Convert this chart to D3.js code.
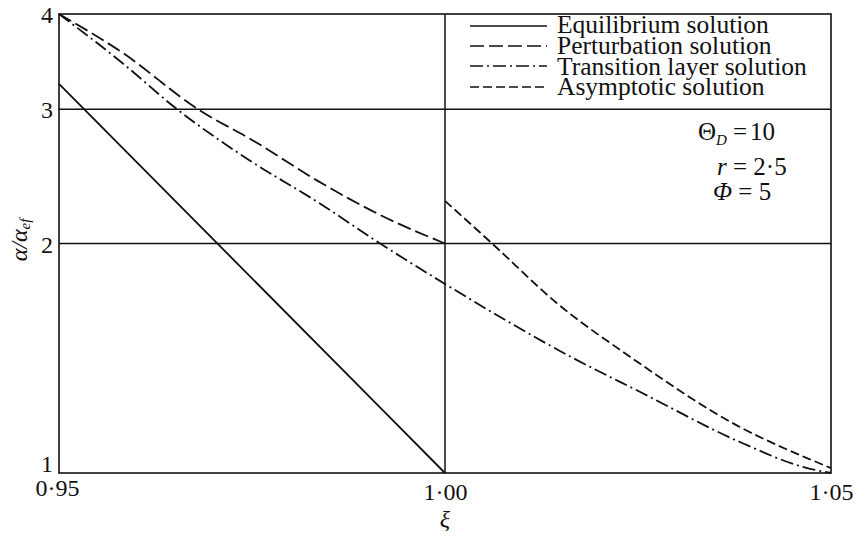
<!DOCTYPE html>
<html>
<head>
<meta charset="utf-8">
<script src="https://cdn.jsdelivr.net/npm/d3@7"></script>
<style>
  html, body { margin: 0; padding: 0; background: #fff; }
  svg { display: block; }
  svg text { font-family: "Liberation Serif", "Tinos", "Times New Roman", Times, "Nimbus Roman", "FreeSerif", "DejaVu Serif", serif; fill: #111; }
</style>
</head>
<body>
<svg id="chart" width="855" height="541"></svg>
<script>
// ---- data ----
const xTicks = [0.95, 1.00, 1.05];
const xTickLabels = ["0·95", "1·00", "1·05"];
const yTicks = [1, 2, 3, 4];
const yTickLabels = ["1", "2", "3", "4"];

const equilibriumXi  = [0.95, 0.975, 1.00];
const equilibriumVal = [3.24, 1.80, 1.00];

const perturbationXi  = [0.95, 0.9582, 0.968, 0.9754, 0.9834, 0.992, 1.00];
const perturbationVal = [4.00, 3.56, 3.00, 2.72, 2.42, 2.17, 2.00];

const transitionXi  = [0.95, 0.9582, 0.9653, 0.9747, 0.9834, 0.9916, 1.00, 1.0166, 1.0253, 1.0382, 1.0469, 1.05];
const transitionVal = [4.00, 3.45, 3.00, 2.57, 2.27, 2.00, 1.77, 1.415, 1.277, 1.098, 1.015, 1.00];

const asymptoticXi  = [1.00, 1.0061, 1.0145, 1.0240, 1.0382, 1.0469, 1.05];
const asymptoticVal = [2.275, 2.00, 1.67, 1.42, 1.149, 1.046, 1.015];

const seriesNames = ["Equilibrium solution", "Perturbation solution", "Transition layer solution", "Asymptotic solution"];
const paramLabels = ["Θ", "r = 2·5", "Φ = 5"];

// ---- layout / styles ----
const L = 59, R = 831, T = 14, B = 473;
const dashes = ["none", "14,5", "13,4,2,4", "9,4"];

const svg = d3.select("#chart");
const x = d3.scaleLinear().domain([0.95, 1.05]).range([L, R]);
const y = d3.scaleLog().domain([1, 4]).range([B, T]);

const series = [
  d3.zip(equilibriumXi, equilibriumVal),
  d3.zip(perturbationXi, perturbationVal),
  d3.zip(transitionXi, transitionVal),
  d3.zip(asymptoticXi, asymptoticVal)
];

// grid lines (ξ = 1.00 vertical, α = 2,3 horizontal)
const g = svg.append("g").attr("stroke", "#111").attr("stroke-width", 1.5);
[2, 3].forEach(v => g.append("line").attr("x1", L).attr("x2", R).attr("y1", y(v)).attr("y2", y(v)));
g.append("line").attr("x1", x(1.00)).attr("x2", x(1.00)).attr("y1", T).attr("y2", B);

// frame
svg.append("rect").attr("x", L).attr("y", T).attr("width", R - L).attr("height", B - T)
  .attr("fill", "none").attr("stroke", "#111").attr("stroke-width", 1.6);

// curves
const line = d3.line().x(d => x(d[0])).y(d => y(d[1])).curve(d3.curveMonotoneX);
series.forEach((s, i) => {
  svg.append("path").datum(s).attr("d", line)
    .attr("fill", "none").attr("stroke", "#111").attr("stroke-width", 1.8)
    .attr("stroke-dasharray", dashes[i]);
});

// axes (labels only)
const yAxis = svg.append("g").attr("transform", `translate(${L},0)`)
  .call(d3.axisLeft(y).tickValues(yTicks).tickFormat((d, i) => yTickLabels[i]).tickSize(0).tickPadding(6));
yAxis.attr("font-size", 24);
yAxis.select(".domain").remove();
yAxis.selectAll("text")
  .attr("fill", "#111")
  .attr("dy", d => d === 1 ? "-0.05em" : "0.36em");

const xAxis = svg.append("g").attr("transform", `translate(0,${B})`)
  .call(d3.axisBottom(x).tickValues(xTicks).tickFormat((d, i) => xTickLabels[i]).tickSize(0).tickPadding(0));
xAxis.attr("font-size", 24);
xAxis.select(".domain").remove();
xAxis.selectAll("text")
  .attr("fill", "#111")
  .attr("dy", (d, i) => i === 0 ? "0.95em" : "1.11em")
  .attr("dx", (d, i) => i === 0 ? -2 : 0);

// axis titles
svg.append("text").attr("x", x(1.00)).attr("y", 527).attr("text-anchor", "middle")
  .attr("font-size", 24).attr("font-style", "italic").text("ξ");

const yl = svg.append("text").attr("transform", "translate(27,240) rotate(-90)")
  .attr("text-anchor", "middle").attr("font-size", 24).attr("font-style", "italic");
yl.append("tspan").text("α/α");
yl.append("tspan").attr("font-size", 15).attr("dy", 3).text("ef");

// legend
const legX1 = 470, legX2 = 547, legTx = 557;
const legLineY = [26, 46, 66, 87];
const legTextY = [33, 54, 75, 95];
seriesNames.forEach((name, i) => {
  svg.append("line").attr("x1", legX1).attr("x2", legX2).attr("y1", legLineY[i]).attr("y2", legLineY[i])
    .attr("stroke", "#111").attr("stroke-width", 1.7).attr("stroke-dasharray", dashes[i]);
  svg.append("text").attr("x", legTx).attr("y", legTextY[i]).attr("font-size", 25.5).text(name);
});

// parameters
const p1 = svg.append("text").attr("x", 698).attr("y", 140).attr("font-size", 25);
p1.append("tspan").text(paramLabels[0]);
p1.append("tspan").attr("font-size", 15).attr("font-style", "italic").attr("dy", 5).text("D");
p1.append("tspan").attr("dy", -5).attr("dx", 6).text("=");
p1.append("tspan").attr("dx", 3).text("10");
const p2 = svg.append("text").attr("x", 717).attr("y", 175).attr("font-size", 25);
p2.append("tspan").attr("font-style", "italic").text("r");
p2.append("tspan").text(" = 2·5");
const p3 = svg.append("text").attr("x", 713).attr("y", 200).attr("font-size", 25);
p3.append("tspan").attr("font-style", "italic").text("Φ");
p3.append("tspan").text(" = 5");
</script>
</body>
</html>
